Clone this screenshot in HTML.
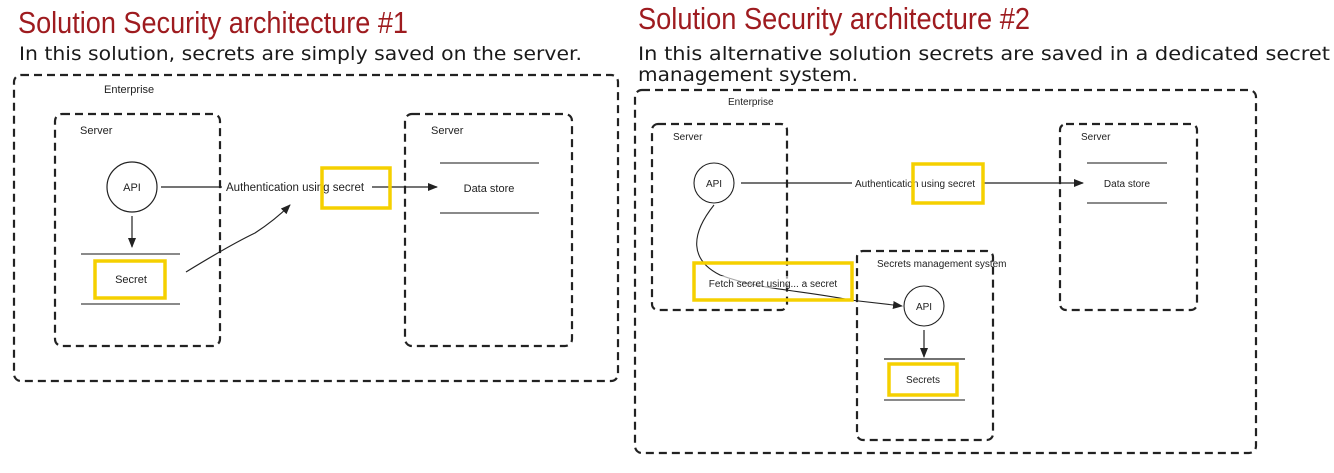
<!DOCTYPE html>
<html><head><meta charset="utf-8"><style>
html,body{margin:0;padding:0;background:#fff;width:1334px;height:473px;overflow:hidden}
svg{display:block}
.t{font-family:"Liberation Sans",sans-serif;fill:#222}
.ttl{font-family:"Liberation Sans",sans-serif;fill:#9e1b1f}
.sub{font-family:"DejaVu Sans","Liberation Sans",sans-serif;fill:#1a1a1a}
</style></head><body>
<svg width="1334" height="473" viewBox="0 0 1334 473" xmlns="http://www.w3.org/2000/svg">
<defs>
<marker id="ah" markerWidth="10" markerHeight="8" refX="9" refY="4" orient="auto" markerUnits="userSpaceOnUse"><path d="M0,0 L10,4 L0,8 z" fill="#222"/></marker>
</defs>
<!-- Titles -->
<text class="ttl" x="18" y="33" font-size="31" textLength="390" lengthAdjust="spacingAndGlyphs">Solution Security architecture #1</text>
<text class="sub" x="19" y="60" font-size="19" textLength="563" lengthAdjust="spacingAndGlyphs">In this solution, secrets are simply saved on the server.</text>
<text class="ttl" x="638" y="29" font-size="31" textLength="392" lengthAdjust="spacingAndGlyphs">Solution Security architecture #2</text>
<text class="sub" x="638" y="60" font-size="19" textLength="692" lengthAdjust="spacingAndGlyphs">In this alternative solution secrets are saved in a dedicated secret</text>
<text class="sub" x="638" y="81" font-size="19" textLength="220" lengthAdjust="spacingAndGlyphs">management system.</text>

<g fill="none" stroke="#222" stroke-width="2.2" stroke-dasharray="8,5">
<rect x="14" y="75" width="604" height="306" rx="7"/>
<rect x="55" y="114" width="165" height="232" rx="7"/>
<rect x="405" y="114" width="167" height="232" rx="7"/>
<rect x="635" y="90" width="621" height="363" rx="7"/>
<rect x="652" y="124" width="135" height="186" rx="6"/>
<rect x="1060" y="124" width="137" height="186" rx="6"/>
<rect x="857" y="251" width="136" height="189" rx="6"/>
</g>

<!-- Left diagram -->
<text class="t" x="104" y="93" font-size="11">Enterprise</text>
<text class="t" x="80" y="134" font-size="11">Server</text>
<text class="t" x="431" y="134" font-size="11">Server</text>
<circle cx="132" cy="187" r="25" fill="none" stroke="#222" stroke-width="1.2"/>
<text class="t" x="132" y="191" font-size="11" text-anchor="middle">API</text>
<line x1="161" y1="187" x2="437" y2="187" stroke="#222" stroke-width="1.3" marker-end="url(#ah)"/>
<rect x="222" y="180" width="150" height="14" fill="#fff"/>
<text class="t" x="226" y="191" font-size="11.5">Authentication using secret</text>
<rect x="322" y="168" width="68" height="40" fill="none" stroke="#f5d000" stroke-width="3.5"/>
<line x1="132" y1="216" x2="132" y2="247" stroke="#222" stroke-width="1.2" marker-end="url(#ah)"/>
<line x1="81" y1="254" x2="180" y2="254" stroke="#444" stroke-width="1.2"/>
<line x1="81" y1="304" x2="180" y2="304" stroke="#444" stroke-width="1.2"/>
<rect x="95" y="261" width="70" height="37" fill="none" stroke="#f5d000" stroke-width="3.5"/>
<text class="t" x="131" y="283" font-size="11" text-anchor="middle">Secret</text>
<path d="M186,272 Q230,245 255,233 Q275,220 290,205" fill="none" stroke="#222" stroke-width="1.2" marker-end="url(#ah)"/>
<line x1="440" y1="163" x2="539" y2="163" stroke="#444" stroke-width="1.2"/>
<line x1="440" y1="213" x2="539" y2="213" stroke="#444" stroke-width="1.2"/>
<text class="t" x="489" y="192" font-size="11" text-anchor="middle">Data store</text>

<!-- Right diagram -->
<text class="t" x="728" y="105" font-size="10">Enterprise</text>
<text class="t" x="673" y="140" font-size="10">Server</text>
<text class="t" x="1081" y="140" font-size="10">Server</text>
<circle cx="714" cy="183" r="20" fill="none" stroke="#222" stroke-width="1.1"/>
<text class="t" x="714" y="187" font-size="10" text-anchor="middle">API</text>
<line x1="741" y1="183" x2="1083" y2="183" stroke="#222" stroke-width="1.2" marker-end="url(#ah)"/>
<rect x="852" y="176" width="130" height="13" fill="#fff"/>
<text class="t" x="855" y="187" font-size="10">Authentication using secret</text>
<rect x="913" y="164" width="70" height="39" fill="none" stroke="#f5d000" stroke-width="3.5"/>
<line x1="1087" y1="163" x2="1167" y2="163" stroke="#444" stroke-width="1.2"/>
<line x1="1087" y1="203" x2="1167" y2="203" stroke="#444" stroke-width="1.2"/>
<text class="t" x="1127" y="187" font-size="10" text-anchor="middle">Data store</text>

<text class="t" x="877" y="267" font-size="10">Secrets management system</text>
<path d="M714,205 C690,235 690,260 720,275 C760,290 800,290 850,300 L902,306" fill="none" stroke="#222" stroke-width="1.1" marker-end="url(#ah)"/>
<rect x="694" y="263" width="158" height="37" fill="none" stroke="#f5d000" stroke-width="3.5"/>
<rect x="710" y="276" width="130" height="12" fill="#fff" opacity="0.6"/>
<text class="t" x="773" y="287" font-size="10" text-anchor="middle">Fetch secret using... a secret</text>
<circle cx="924" cy="306" r="20" fill="none" stroke="#222" stroke-width="1.1"/>
<text class="t" x="924" y="310" font-size="10" text-anchor="middle">API</text>
<line x1="924" y1="330" x2="924" y2="357" stroke="#222" stroke-width="1.2" marker-end="url(#ah)"/>
<line x1="884" y1="359" x2="965" y2="359" stroke="#444" stroke-width="1.5"/>
<line x1="884" y1="400" x2="965" y2="400" stroke="#444" stroke-width="1.2"/>
<rect x="889" y="364" width="68" height="31" fill="none" stroke="#f5d000" stroke-width="3.5"/>
<text class="t" x="923" y="383" font-size="10" text-anchor="middle">Secrets</text>
</svg>
</body></html>
